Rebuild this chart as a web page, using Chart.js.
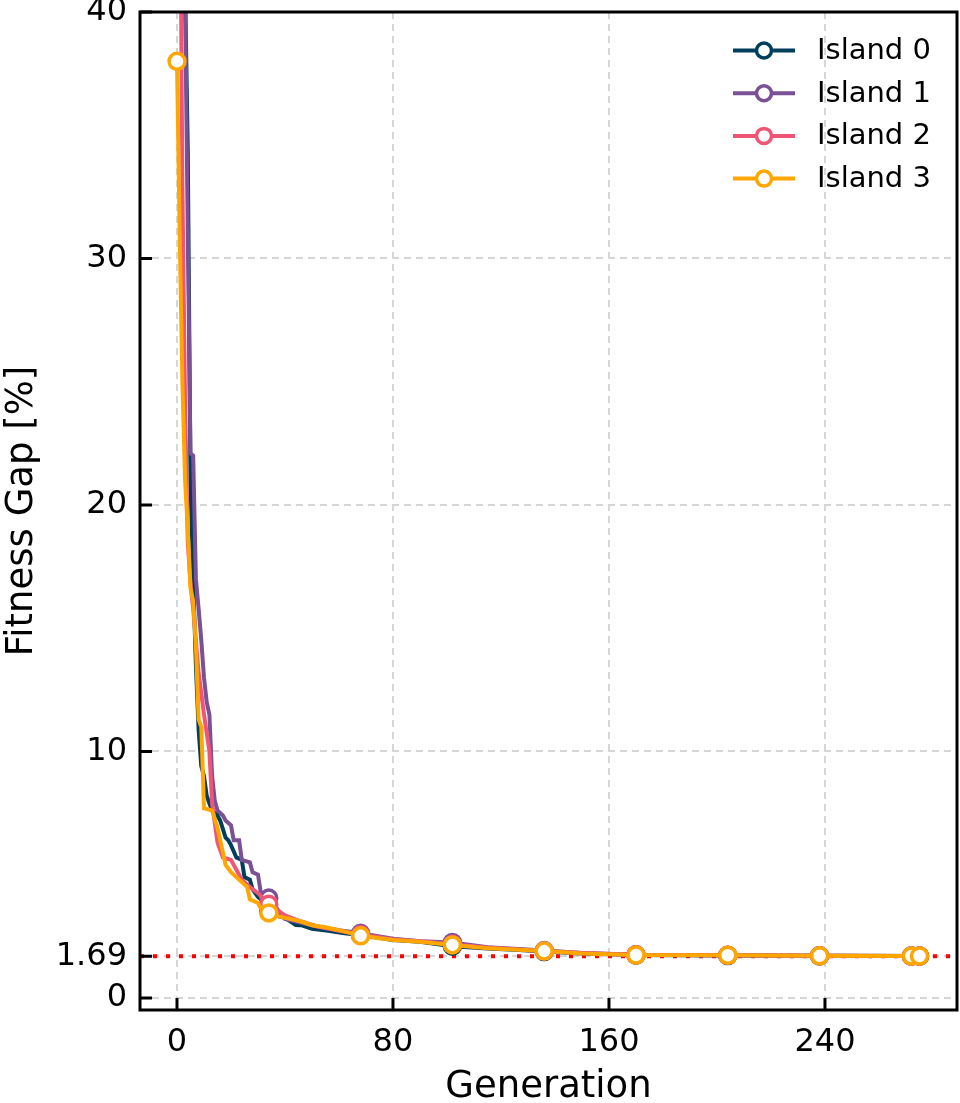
<!DOCTYPE html>
<html>
<head>
<meta charset="utf-8">
<script src="https://cdn.jsdelivr.net/npm/chart.js@4.4.1/dist/chart.umd.min.js"></script>
<style>
html, body { margin: 0; padding: 0; background: #ffffff; overflow: hidden; }
#wrap { width: 960px; height: 1103px; position: relative; }
#gapChart { display: block; }
</style>
</head>
<body>
<div id="wrap"><canvas id="gapChart"></canvas></div>
<script>
const seriesLabels = ["Island 0", "Island 1", "Island 2", "Island 3"];
const seriesColors = ["#003f5c", "#7a5195", "#ef5675", "#ffa600"];

// generation index / fitness gap [%] per island (best so far)
const island0Gen = [0, 1, 2, 3, 4, 5, 6, 7, 8, 9, 10, 11, 12, 13, 15, 16, 18, 19, 20, 22, 24, 25, 27, 28, 30, 31, 33, 34, 38, 40, 44, 46, 50, 56, 62, 68, 80, 90, 102, 115, 125, 136, 150, 170, 204, 238, 272, 275];
const island0Gap = [70, 58, 47, 41, 34.3, 21, 17, 13.5, 10.9, 9.4, 9.0, 8.2, 7.9, 7.6, 7.4, 7.2, 6.5, 6.4, 6.2, 5.7, 5.6, 4.9, 4.8, 4.4, 4.1, 4.0, 3.7, 3.55, 3.3, 3.25, 2.96, 2.95, 2.8, 2.72, 2.62, 2.55, 2.35, 2.28, 2.1, 2.0, 1.95, 1.88, 1.8, 1.74, 1.72, 1.71, 1.70, 1.70];

const island1Gen = [0, 1, 2, 3, 4, 5, 6, 7, 8, 9, 10, 11, 12, 13, 14, 15, 17, 18, 20, 21, 23, 24, 27, 28, 30, 31, 34, 40, 46, 52, 60, 68, 80, 90, 102, 115, 136, 150, 170, 204, 238, 272, 275];
const island1Gap = [80, 65, 52, 40.5, 31, 22.1, 22.0, 17.0, 15.8, 14.5, 13.0, 12.0, 11.5, 9.0, 8.0, 7.6, 7.4, 7.2, 7.0, 6.4, 6.4, 5.6, 5.5, 5.1, 5.0, 4.3, 4.05, 3.2, 3.05, 2.9, 2.75, 2.62, 2.4, 2.3, 2.25, 2.06, 1.92, 1.82, 1.75, 1.73, 1.71, 1.70, 1.70];

const island2Gen = [0, 1, 2, 3, 4, 5, 6, 8, 10, 12, 13, 15, 17, 20, 22, 24, 27, 30, 34, 40, 46, 52, 60, 68, 80, 90, 102, 115, 136, 150, 170, 204, 238, 272, 275];
const island2Gap = [60, 48, 33, 24, 18.5, 16.8, 15.8, 13.2, 11.5, 10.0, 7.9, 6.3, 5.7, 5.6, 5.2, 4.8, 4.5, 4.25, 3.8, 3.35, 3.1, 2.9, 2.72, 2.57, 2.38, 2.3, 2.18, 2.05, 1.9, 1.82, 1.75, 1.73, 1.71, 1.70, 1.70];

const island3Gen = [0, 1, 2, 3, 4, 5, 6, 7, 8, 9, 10, 13, 15, 18, 20, 23, 26, 27, 30, 31, 34, 38, 42, 46, 50, 56, 62, 68, 80, 90, 102, 115, 136, 150, 170, 204, 238, 272, 275];
const island3Gap = [38, 31, 25, 21, 19, 16.6, 16.1, 14.3, 11.3, 11.0, 7.7, 7.6, 6.9, 5.4, 5.1, 4.8, 4.5, 4.0, 3.85, 3.65, 3.45, 3.3, 3.2, 3.1, 2.95, 2.85, 2.7, 2.52, 2.35, 2.28, 2.15, 2.02, 1.9, 1.8, 1.74, 1.73, 1.71, 1.70, 1.70];

const xTickValues = [0, 80, 160, 240];
const yTickValues = [0, 1.69, 10, 20, 30, 40];
const optimumGap = 1.69;
const markerEvery = 34;

const FONT = "'DejaVu Sans', sans-serif";

function toPoints(gens, gaps) {
    return gens.map((g, i) => ({ x: g, y: gaps[i] }));
}

const islandData = [
    toPoints(island0Gen, island0Gap),
    toPoints(island1Gen, island1Gap),
    toPoints(island2Gen, island2Gap),
    toPoints(island3Gen, island3Gap)
];

function isMarker(ctx) {
    const n = ctx.dataset.data.length;
    return ctx.raw && (ctx.raw.x % markerEvery === 0 || ctx.dataIndex === n - 1);
}

function noPadding(scale) {
    scale.paddingLeft = 0;
    scale.paddingRight = 0;
    scale.paddingTop = 0;
    scale.paddingBottom = 0;
}

// red dotted optimum line, black frame, inward ticks, legend in the corner
const framePlugin = {
    id: "frame",
    beforeDatasetsDraw(chart) {
        const { ctx, chartArea } = chart;
        const y = chart.scales.y.getPixelForValue(optimumGap);
        ctx.save();
        ctx.strokeStyle = "#ff0000";
        ctx.lineWidth = 4;
        ctx.setLineDash([4, 9]);
        ctx.beginPath();
        ctx.moveTo(chartArea.left, y);
        ctx.lineTo(chartArea.right, y);
        ctx.stroke();
        ctx.restore();
    },
    afterDraw(chart) {
        const { ctx, chartArea } = chart;
        const xs = chart.scales.x;
        const ys = chart.scales.y;
        ctx.save();
        ctx.strokeStyle = "#000";
        ctx.lineWidth = 3;
        ctx.strokeRect(chartArea.left, chartArea.top, chartArea.right - chartArea.left, chartArea.bottom - chartArea.top);

        ctx.beginPath();
        xTickValues.forEach(v => {
            const px = xs.getPixelForValue(v);
            ctx.moveTo(px, chartArea.bottom);
            ctx.lineTo(px, chartArea.bottom - 12);
        });
        yTickValues.forEach(v => {
            const py = ys.getPixelForValue(v);
            ctx.moveTo(chartArea.left, py);
            ctx.lineTo(chartArea.left + 12, py);
        });
        ctx.stroke();

        // legend
        const x1 = chartArea.right - 224;
        const x2 = chartArea.right - 162;
        const tx = chartArea.right - 140;
        ctx.font = "29px " + FONT;
        ctx.textBaseline = "middle";
        ctx.textAlign = "left";
        seriesLabels.forEach((label, i) => {
            const y = chartArea.top + 38.5 + i * 42.7;
            ctx.strokeStyle = seriesColors[i];
            ctx.lineWidth = 4;
            ctx.beginPath();
            ctx.moveTo(x1, y);
            ctx.lineTo(x2, y);
            ctx.stroke();
            ctx.beginPath();
            ctx.arc((x1 + x2) / 2, y, 7.5, 0, Math.PI * 2);
            ctx.fillStyle = "#fff";
            ctx.fill();
            ctx.lineWidth = 3.5;
            ctx.stroke();
            ctx.fillStyle = "#000";
            ctx.fillText(label, tx, y + 1);
        });
        ctx.restore();
    }
};

const datasets = islandData.map((pts, i) => ({
    label: seriesLabels[i],
    data: pts,
    borderColor: seriesColors[i],
    borderWidth: 4,
    tension: 0,
    fill: false,
    clip: 0,
    order: seriesLabels.length - i,
    pointBackgroundColor: "#ffffff",
    pointBorderColor: seriesColors[i],
    pointBorderWidth: 3.5,
    pointRadius: ctx => isMarker(ctx) ? 8 : 0,
    pointHoverRadius: ctx => isMarker(ctx) ? 8 : 0
}));

new Chart(document.getElementById("gapChart"), {
    type: "line",
    data: { datasets: datasets },
    options: {
        responsive: true,
        maintainAspectRatio: false,
        animation: false,
        layout: { autoPadding: false, padding: { top: 12, right: 3, left: 0, bottom: 0 } },
        plugins: {
            legend: { display: false },
            tooltip: { enabled: false }
        },
        scales: {
            x: {
                type: "linear",
                min: -13.7,
                max: 288.9,
                afterBuildTicks: scale => {
                    scale.ticks = xTickValues.map(v => ({ value: v }));
                },
                afterFit: scale => {
                    scale.height = 93;
                    noPadding(scale);
                },
                grid: {
                    color: "#d6d6d6",
                    lineWidth: 2,
                    drawTicks: false
                },
                border: { display: false, dash: [7, 5] },
                ticks: {
                    color: "#000",
                    padding: 13,
                    maxRotation: 0,
                    font: { family: FONT, size: 32 }
                },
                title: {
                    display: true,
                    text: "Generation",
                    color: "#000",
                    padding: { top: 0, bottom: -7 },
                    font: { family: FONT, size: 37 }
                }
            },
            y: {
                type: "linear",
                min: -0.49,
                max: 40,
                afterBuildTicks: scale => {
                    scale.ticks = yTickValues.map(v => ({ value: v }));
                },
                afterFit: scale => {
                    scale.width = 140;
                    noPadding(scale);
                },
                grid: {
                    color: "#d6d6d6",
                    lineWidth: 2,
                    drawTicks: false
                },
                border: { display: false, dash: [7, 5] },
                ticks: {
                    color: "#000",
                    padding: 13,
                    font: { family: FONT, size: 32 },
                    callback: v => String(v)
                },
                title: {
                    display: true,
                    text: "Fitness Gap [%]",
                    color: "#000",
                    padding: { top: 0, bottom: 0 },
                    font: { family: FONT, size: 37 }
                }
            }
        }
    },
    plugins: [framePlugin]
});
</script>
</body>
</html>
